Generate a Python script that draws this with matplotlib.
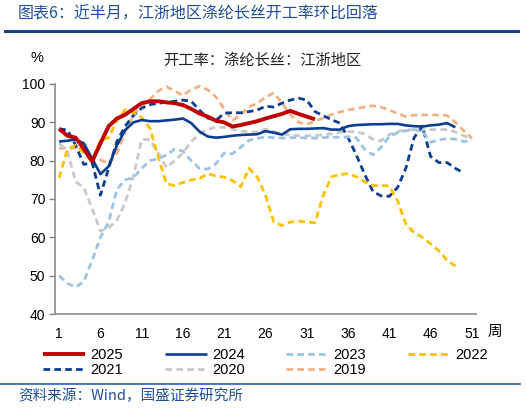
import matplotlib
matplotlib.use("Agg")
import matplotlib.pyplot as plt
from matplotlib.lines import Line2D

plt.rcParams['font.family'] = ['Liberation Sans', 'Noto Sans CJK SC', 'DejaVu Sans']

# ---------------- data ----------------
v2025 = [88.3, 86.5, 86, 83, 79.8, 84.5, 89, 91, 92, 93.5, 95, 95.5, 95.5, 95.2, 95, 94.5,
         93.5, 92.3, 91.5, 90.4, 90, 88.9, 89.3, 89.8, 90.3, 91, 91.6, 92.2, 93, 92.2, 91.5, 90.8]
v2024 = [85, 85.2, 85.5, 84.5, 80.5, 76.5, 78.5, 84, 88, 90, 90.6, 90.3, 90.3, 90.5, 90.7, 91,
         89.8, 87.6, 86.3, 86, 86.2, 86.5, 86.7, 86.8, 86.9, 87.7, 87.3, 86.8, 88.2, 88.3, 88.3,
         88.4, 88.5, 88.1, 88.1, 89, 89.3, 89.4, 89.5, 89.5, 89.6, 89.6, 89.2, 89, 88.9, 89.2,
         89.4, 89.8, 88.7]
v2023 = [50, 48, 47, 48.5, 54, 60, 64, 72.5, 75, 75.5, 78, 80, 80.5, 81.5, 83, 82.5, 80, 78,
         77.8, 79.2, 82, 81.8, 83.5, 85.3, 85.8, 86.2, 86, 85.9, 86, 86, 85.9, 85.9, 86, 86.1,
         86.1, 86.2, 86, 83, 81.5, 83.5, 86.3, 87.3, 87.8, 88.1, 87.7, 84.8, 85.4, 85.8, 85.6,
         85, 85.2]
v2022 = [75.5, 83, 84, 82, 80, 85.3, 86, 90.5, 93.3, 92.5, 91.3, 88.5, 81, 74, 73.5, 74.3, 75,
         75.3, 76.6, 76, 75.7, 74.8, 73.2, 78, 75.7, 71, 64, 63.1, 64, 64.2, 64, 63.8, 71, 75.8,
         76.4, 76.6, 75.8, 74.5, 73.5, 73.5, 73.4, 69.5, 63.5, 61.2, 60, 58.3, 56.5, 54, 52.5]
v2021 = [88.3, 88, 84, 79, 79.5, 71, 78, 85, 89, 91.8, 93.7, 94.6, 95, 95.2, 95.5, 95.8, 95.5,
         93.2, 91.1, 90.5, 92.4, 92.5, 92.5, 92.8, 93.2, 94.2, 94, 95, 95.8, 96.3, 95.8, 92.8,
         91.7, 90.7, 89.8, 86, 81.5, 76.5, 72, 70.8, 70.7, 73, 78, 86, 89, 81.1, 79.5, 79.5,
         78, 76.8]
v2020 = [84.5, 82.5, 74.5, 73, 67.5, 61.6, 62.5, 64.5, 69, 76, 85.5, 85.5, 82, 78.2, 80, 82,
         85, 87, 88.2, 88.7, 88.7, 88.2, 87.7, 87.5, 87.5, 88.2, 87.6, 87, 86.7, 86.5, 86.5,
         86.6, 86.7, 87, 87.4, 87.6, 87.5, 87, 85.6, 85.2, 86.8, 87.6, 88, 88.1, 88.1, 88.1,
         88.1, 88.1, 87.5, 86.5, 85.9]
v2019 = [83.2, 83.3, 83.3, 82.5, 80.8, 80.2, 79.3, 82, 87.5, 92, 94.3, 96, 98.2, 99.3, 98.2,
         97, 98.6, 99.4, 98.5, 96.6, 93.5, 90.5, 92, 94, 95, 96.5, 97.7, 95, 92, 90, 89.5, 90.3,
         91.1, 92, 92.7, 93.2, 93.6, 94, 94.3, 94, 93.2, 92.3, 91.5, 91.9, 91.9, 91.9, 91.9,
         91.8, 90, 87.8, 85.9]

x_ticks = [1, 6, 11, 16, 21, 26, 31, 36, 41, 46, 51]
y_ticks = [40, 50, 60, 70, 80, 90, 100]

header = "图表6：近半月，江浙地区涤纶长丝开工率环比回落"
subtitle = "开工率：涤纶长丝：江浙地区"
source = "资料来源：Wind，国盛证券研究所"

# ---------------- styles ----------------
DARK = "#0B3D91"
series = [
    ("2019", v2019, "#F4B183", 2.0, True),
    ("2020", v2020, "#C9C9C9", 2.0, True),
    ("2021", v2021, DARK, 2.0, True),
    ("2022", v2022, "#FFC000", 2.0, True),
    ("2023", v2023, "#9DC3E6", 2.0, True),
    ("2024", v2024, DARK, 1.9, False),
    ("2025", v2025, "#C00000", 2.8, False),
]

W, H = 526, 409
fig = plt.figure(figsize=(W / 100, H / 100), dpi=100)
ax = fig.add_axes([55 / W, 1 - 314 / H, (476 - 55) / W, (314 - 84) / H])

handles = {}
for name, vals, col, lw, dashed in series:
    weeks = list(range(1, len(vals) + 1))
    if dashed:
        ln, = ax.plot(weeks, vals, color=col, lw=lw, linestyle=(0, (2.4, 1.5)),
                      solid_joinstyle='round', dash_capstyle='butt')
    else:
        ln, = ax.plot(weeks, vals, color=col, lw=lw, solid_joinstyle='round',
                      solid_capstyle='butt')
    handles[name] = ln

ax.set_xlim(0.5, 51.5)
ax.set_ylim(40, 100)
ax.set_xticks(x_ticks)
ax.set_yticks(y_ticks)
ax.tick_params(axis='x', length=0, pad=9, labelsize=10, colors='#000000')
ax.tick_params(axis='y', length=4, width=1, direction='out', color='#808080',
               labelsize=10, pad=3)
for lab in ax.get_yticklabels():
    lab.set_color('#000000')
for s in ['top', 'right']:
    ax.spines[s].set_visible(False)
for s in ['left', 'bottom']:
    ax.spines[s].set_color('#8C8C8C')
    ax.spines[s].set_linewidth(1.2)

# axis labels / titles
fig.text(37 / W, 1 - 58 / H, "%", fontsize=10.5, ha='center', va='center')
fig.text(495 / W, 1 - 332 / H, "周", fontsize=10.5, ha='center', va='center',
         family=['Noto Sans CJK SC'])
fig.text(262 / W, 1 - 60 / H, subtitle, fontsize=11, ha='center', va='center',
         family=['Noto Sans CJK SC'], color='#222222')

# header and separators
fig.text(18 / W, 1 - 14 / H, header, fontsize=11.5, ha='left', va='center',
         family=['Noto Sans CJK SC'], color='#1F4E9A', style='italic')
fig.add_artist(Line2D([5 / W, 518 / W], [1 - 31 / H, 1 - 31 / H], color='#1F3F8F',
                      lw=2.2, transform=fig.transFigure))
fig.add_artist(Line2D([0 / W, 520 / W], [1 - 384 / H, 1 - 384 / H], color='#3A6CC0',
                      lw=1.3, transform=fig.transFigure))
fig.text(18 / W, 1 - 396 / H, source, fontsize=10.5, ha='left', va='center',
         family=['Noto Sans CJK SC'], color='#1F4E9A', style='italic')

# legend (row-major order 2025 2024 2023 2022 / 2021 2020 2019)
order = ["2025", "2021", "2024", "2020", "2023", "2019", "2022"]
leg = fig.legend([handles[k] for k in order], order, ncol=4, loc='upper left',
                 bbox_to_anchor=(43 / W, 1 - 348 / H), frameon=False, fontsize=10.5,
                 handlelength=2.9, handletextpad=0.35, columnspacing=2.85,
                 labelspacing=0.05, borderpad=0, borderaxespad=0)

fig.savefig("out.png", dpi=100)
